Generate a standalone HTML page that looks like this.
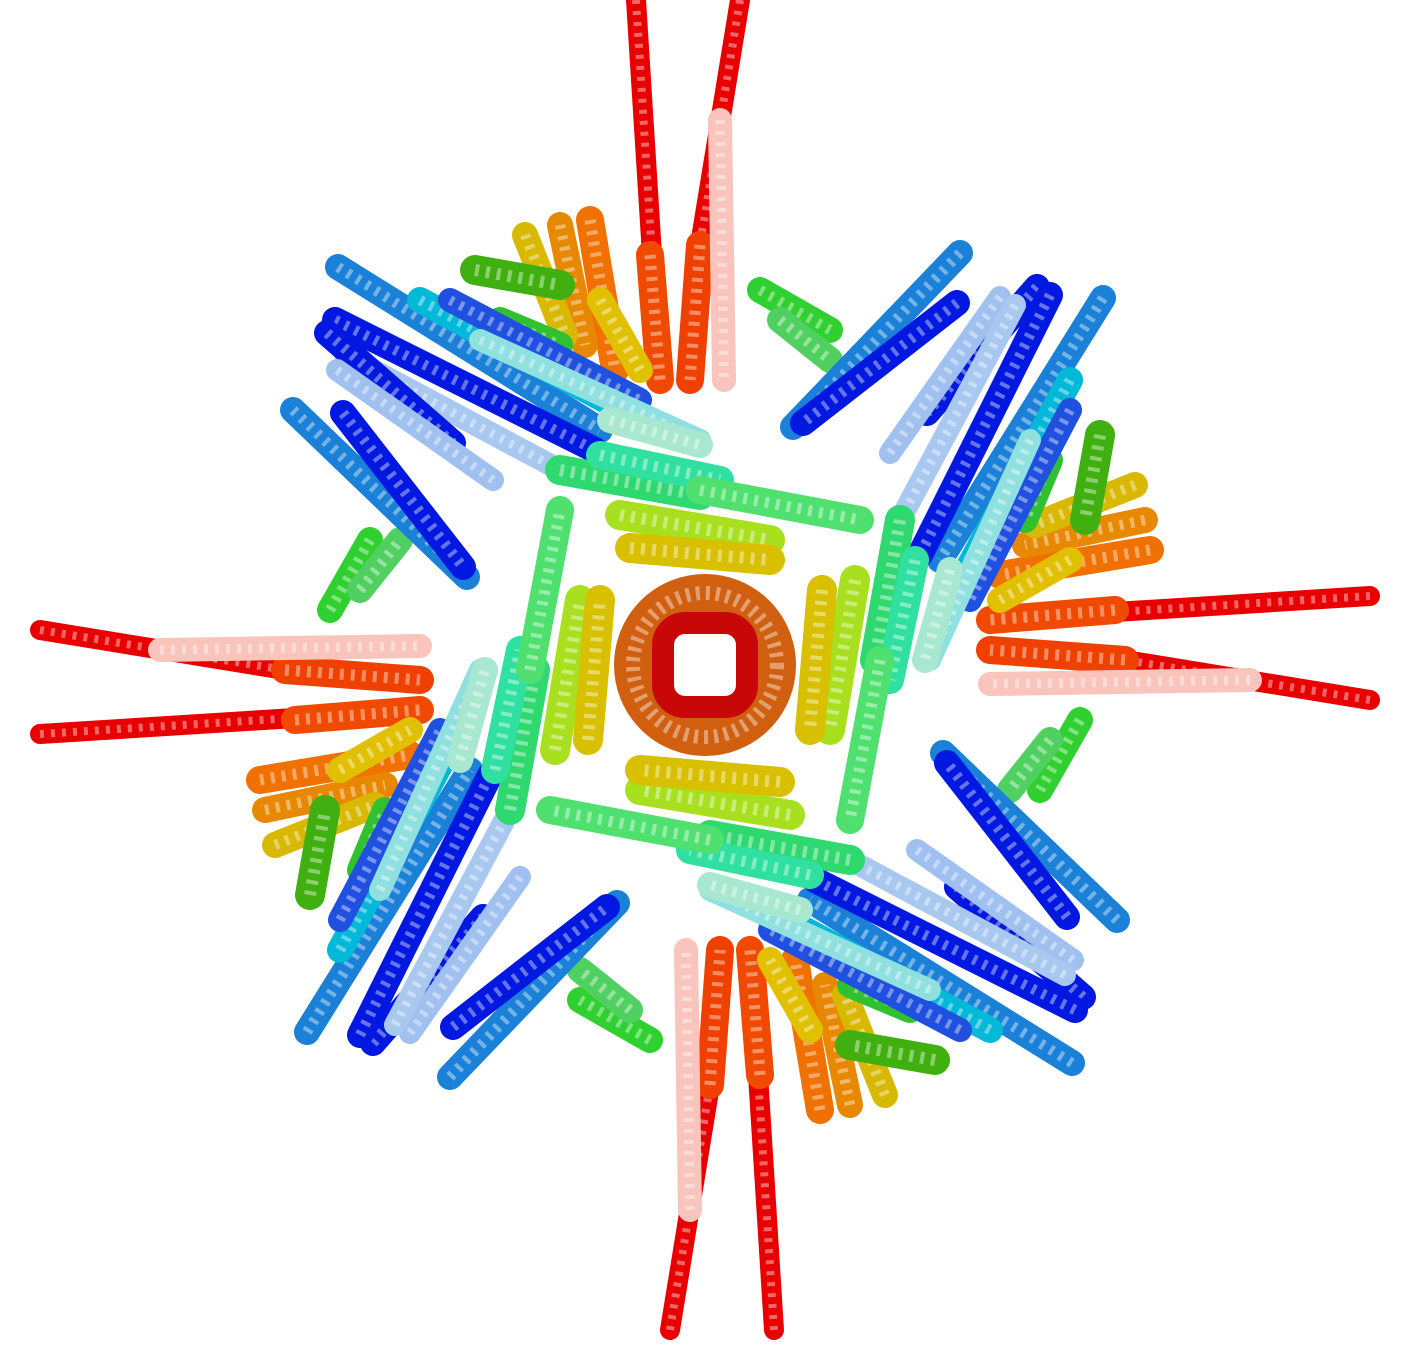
<!DOCTYPE html>
<html><head><meta charset="utf-8"><style>
html,body{margin:0;padding:0;background:#fff;}
svg{display:block;}
</style></head><body>
<svg id="mol" width="1414" height="1364" viewBox="0 0 1414 1364" xmlns="http://www.w3.org/2000/svg">
<rect width="1414" height="1364" fill="#fff"/>
<g id="quads" transform="translate(705,665)"></g>
</svg>
<script>
// helix segments for one quadrant (absolute coords of the top quadrant), rotated 4x around center
const x1s=[636,740,650,700,720,590,560,525,600,475,500,760,780,338,335,420,450,345,480,960,957,1037,1000,560,600,620,630,700,610];
const y1s=[0,0,255,245,120,220,225,235,300,270,320,290,320,267,320,300,300,355,340,253,303,287,297,470,455,515,548,490,420];
const x2s=[652,700,660,690,724,615,585,565,640,560,560,830,830,600,595,660,640,560,700,793,803,927,890,700,720,770,770,860,700];
const y2s=[255,245,380,380,380,370,345,335,370,285,345,330,360,430,450,430,400,470,440,427,423,413,453,495,480,540,560,520,445];
const cols=['#e80000','#e80000','#f04a00','#f04000','#f8c4bc','#f07000','#e88800','#d8b800','#e0c000','#40b010','#30c030','#30d030','#50d060','#1a80d8','#0018e0','#00b8d8','#2050e0','#a8c8f0','#90e0e0','#1a80d8','#0018e0','#0018e0','#a0c0f0','#30d870','#30e0a0','#a8e020','#d8c000','#50e070','#a8e8d0'];
const ws=[20,20,28,28,24,28,26,26,26,30,26,26,26,26,26,26,24,22,22,26,26,26,22,30,28,30,30,28,26];
const g=document.getElementById('quads');
const NS='http://www.w3.org/2000/svg';
for(let q=0;q<4;q++){
  const grp=document.createElementNS(NS,'g');
  grp.setAttribute('transform','rotate('+(q*90)+') translate(-705,-665)');
  
  
  for(let i=0;i<x1s.length;i++){
    const a=document.createElementNS(NS,'line');
    a.setAttribute('x1',x1s[i]);a.setAttribute('y1',y1s[i]);a.setAttribute('x2',x2s[i]);a.setAttribute('y2',y2s[i]);
    a.setAttribute('stroke',cols[i]);a.setAttribute('stroke-width',ws[i]);a.setAttribute('stroke-linecap','round');
    
    
    grp.appendChild(a);
    const b=document.createElementNS(NS,'line');
    b.setAttribute('x1',x1s[i]);b.setAttribute('y1',y1s[i]);b.setAttribute('x2',x2s[i]);b.setAttribute('y2',y2s[i]);
    b.setAttribute('stroke','#fff');b.setAttribute('stroke-opacity','0.4');b.setAttribute('stroke-width',ws[i]*0.4);b.setAttribute('stroke-dasharray','4 7');
    
    
    grp.appendChild(b);
  }
  g.appendChild(grp);
}
const ring=document.createElementNS(NS,'circle');
ring.setAttribute('r','72');ring.setAttribute('fill','none');ring.setAttribute('stroke','#d06010');ring.setAttribute('stroke-width','38');


g.appendChild(ring);
const ring2=document.createElementNS(NS,'circle');
ring2.setAttribute('r','72');ring2.setAttribute('fill','none');ring2.setAttribute('stroke','#fff');ring2.setAttribute('stroke-opacity','0.4');ring2.setAttribute('stroke-width','14');ring2.setAttribute('stroke-dasharray','4 6');


g.appendChild(ring2);
const inner=document.createElementNS(NS,'rect');
inner.setAttribute('x','-42');inner.setAttribute('y','-42');inner.setAttribute('width','84');inner.setAttribute('height','84');inner.setAttribute('rx','22');
inner.setAttribute('fill','#fff');inner.setAttribute('stroke','#c80808');inner.setAttribute('stroke-width','22');


g.appendChild(inner);
</script>
</body></html>
